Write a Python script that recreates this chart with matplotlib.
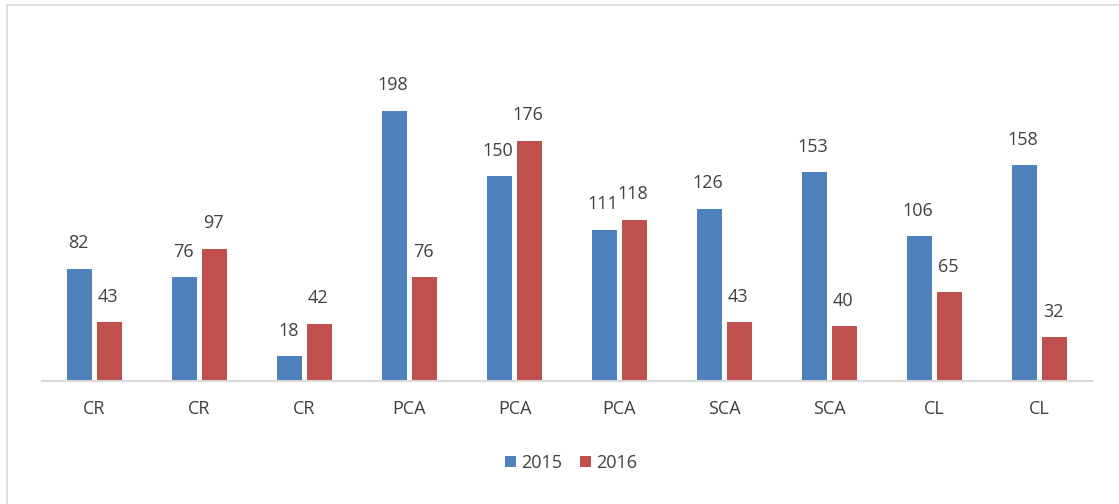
import matplotlib.pyplot as plt
import numpy as np
from matplotlib.patches import Rectangle

categories = ['CR', 'CR', 'CR', 'PCA', 'PCA', 'PCA', 'SCA', 'SCA', 'CL', 'CL']
v2015 = [82, 76, 18, 198, 150, 111, 126, 153, 106, 158]
v2016 = [43, 97, 42, 76, 176, 118, 43, 40, 65, 32]
series_names = ['2015', '2016']

W, H = 1119, 504
fig = plt.figure(figsize=(W / 100, H / 100), dpi=100)
plt.rcParams['font.family'] = ['Open Sans', 'DejaVu Sans']

# light frame (only left and top edges are visible in the crop)
fig.patches.append(Rectangle((7 / W, -0.1), 2, (1 - 5 / H) + 0.1, transform=fig.transFigure,
                             fill=False, edgecolor='#d9d9d9', linewidth=1.2))

ax = fig.add_axes([42 / W, 1 - 381 / H, (1092 - 42) / W, (381 - 40) / H])
x = np.arange(len(categories))
bw = 0.23
off = 0.143
b1 = ax.bar(x - off, v2015, bw, color='#4f81bd', label=series_names[0])
b2 = ax.bar(x + off, v2016, bw, color='#c0504d', label=series_names[1])

ax.set_xlim(-0.5, len(categories) - 0.5)
ax.set_ylim(0, 250)
for s in ['top', 'right', 'left']:
    ax.spines[s].set_visible(False)
ax.spines['bottom'].set_color('#d9d9d9')
ax.spines['bottom'].set_linewidth(1.5)
ax.set_yticks([])
ax.set_xticks(x)
ax.set_xticklabels(categories, fontsize=13, color='#404040')
ax.tick_params(axis='x', length=0, pad=14)

for bars, vals in ((b1, v2015), (b2, v2016)):
    for rect, v in zip(bars, vals):
        ax.annotate(str(v), (rect.get_x() + rect.get_width() / 2, v),
                    xytext=(-1, 18.5), textcoords='offset points',
                    ha='center', va='center', fontsize=13, color='#404040')

fig.legend(loc='center', bbox_to_anchor=(571 / W, 1 - 463 / H), ncol=2, frameon=False,
           fontsize=13, handlelength=0.6, handleheight=0.6, handletextpad=0.3,
           columnspacing=1.0, labelcolor='#404040')

fig.savefig('out.png', dpi=100, facecolor='white')
